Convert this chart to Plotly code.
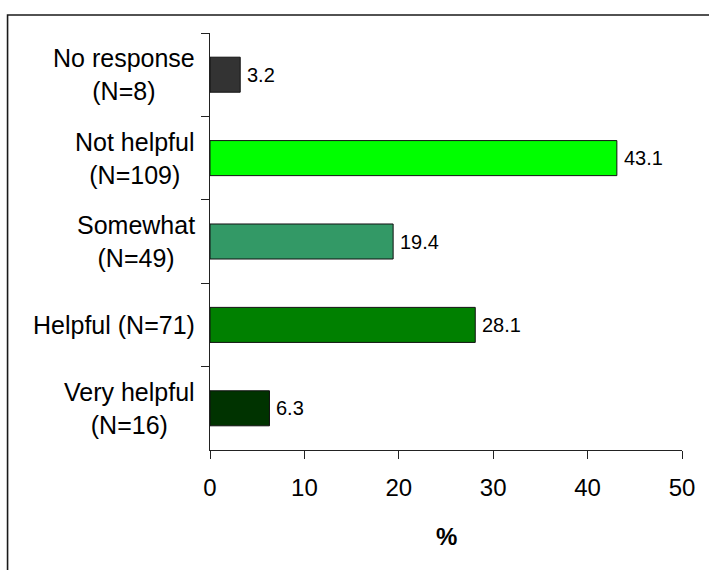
import plotly.graph_objects as go

# Survey responses, listed top to bottom
categories = ["No response (N=8)", "Not helpful (N=109)", "Somewhat (N=49)",
              "Helpful (N=71)", "Very helpful (N=16)"]
label_lines = ["No response<br>(N=8)", "Not helpful<br>(N=109)", "Somewhat<br>(N=49)",
               "Helpful (N=71)", "Very helpful<br>(N=16)"]
percent = [3.2, 43.1, 19.4, 28.1, 6.3]
bar_colors = ["#333333", "#00FF00", "#339966", "#008000", "#003300"]
x_ticks = [0, 10, 20, 30, 40, 50]

FONT = "Arial, 'Liberation Sans', sans-serif"

fig = go.Figure(go.Bar(
    x=percent,
    y=categories,
    orientation="h",
    width=0.42,
    marker=dict(color=bar_colors, line=dict(color="#111111", width=1)),
    hoverinfo="x+y",
))

# value labels just past the bar ends
for cat, val in zip(categories, percent):
    fig.add_annotation(x=val, y=cat, xref="x", yref="y", text=f"{val:.1f}",
                       showarrow=False, xanchor="left", yanchor="middle",
                       xshift=5, font=dict(family=FONT, size=20, color="#000000"))

# category labels, centred within a right-aligned block
for cat, lab in zip(categories, label_lines):
    fig.add_annotation(x=0, y=cat, xref="paper", yref="y", text=lab,
                       showarrow=False, xanchor="right", yanchor="middle",
                       align="center", xshift=-13,
                       font=dict(family=FONT, size=25, color="#000000"))

# axis title
fig.add_annotation(x=0.5, y=-0.2086, xref="paper", yref="paper", text="<b>%</b>",
                   showarrow=False, xanchor="center", yanchor="middle",
                   font=dict(family=FONT, size=24, color="#000000"))

# outer frame (top and left edges visible)
fig.add_shape(type="rect", xref="paper", yref="paper",
              x0=-0.4289, x1=1.08, y0=-0.30, y1=1.0432,
              line=dict(color="#1a1a1a", width=1.6), fillcolor="rgba(0,0,0,0)",
              layer="above")

fig.update_layout(
    width=709, height=570,
    margin=dict(l=210, r=27, t=33, b=120),
    paper_bgcolor="#ffffff", plot_bgcolor="#ffffff",
    showlegend=False,
    font=dict(family=FONT, color="#000000"),
    xaxis=dict(range=[0, 50], tickvals=x_ticks, ticks="outside", ticklen=8,
               tickcolor="#222222", showline=True, linecolor="#222222", linewidth=1,
               showgrid=False, zeroline=False, fixedrange=True,
               tickfont=dict(family=FONT, size=24, color="#000000"),
               ticklabelstandoff=8),
    yaxis=dict(categoryorder="array", categoryarray=categories, autorange="reversed",
               tickson="boundaries", ticks="outside", ticklen=8, tickcolor="#222222",
               showticklabels=False, showline=True, linecolor="#222222", linewidth=1,
               showgrid=False, zeroline=False, fixedrange=True),
)

fig.write_html("out.html")
